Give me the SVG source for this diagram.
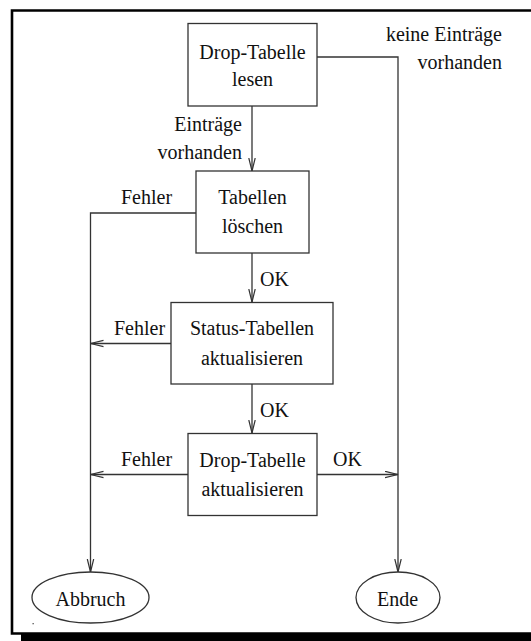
<svg xmlns="http://www.w3.org/2000/svg" width="531" height="641" viewBox="0 0 531 641">
  <style>
    .box { fill: #fff; stroke: #333; stroke-width: 1.3; }
    .edge { fill: none; stroke: #333; stroke-width: 1.3; }
    text { font-family: "Liberation Serif", "Times New Roman", serif; font-size: 20px; fill: #111; }
    .c { text-anchor: middle; }
    .r { text-anchor: end; }
  </style>
  <defs>
    <marker id="arrow" markerUnits="userSpaceOnUse" markerWidth="16" markerHeight="10" refX="13" refY="4" orient="auto">
      <path d="M0,0.8 L13,4 L0,7.2" fill="none" stroke="#333" stroke-width="1.2"/>
    </marker>
  </defs>

  <rect width="531" height="641" fill="#fff"/>

  <!-- page frame with drop shadow -->
  <g id="frame">
    <path d="M531,10.5 H12 V633.5 H531" fill="none" stroke="#000" stroke-width="2.6"/>
    <rect x="21" y="634" width="510" height="7" fill="#000"/>
    <rect x="32.5" y="623" width="1.3" height="1.3" fill="#555"/>
  </g>

  <!-- connectors -->
  <g id="connectors">
    <path class="edge" d="M317,57 H398 V572" marker-end="url(#arrow)"/>
    <path class="edge" d="M252,106 V171" marker-end="url(#arrow)"/>
    <path class="edge" d="M196,213 H90.5 V572" marker-end="url(#arrow)"/>
    <path class="edge" d="M252,253 V302" marker-end="url(#arrow)"/>
    <path class="edge" d="M171,343.5 H90.5" marker-end="url(#arrow)"/>
    <path class="edge" d="M252,384 V433" marker-end="url(#arrow)"/>
    <path class="edge" d="M188,474.5 H90.5" marker-end="url(#arrow)"/>
    <path class="edge" d="M317,474.5 H398" marker-end="url(#arrow)"/>

    <text class="r" x="502" y="41">keine Einträge</text>
    <text class="r" x="502" y="69">vorhanden</text>
    <text class="r" x="242" y="131">Einträge</text>
    <text class="r" x="242" y="159">vorhanden</text>
    <text x="121" y="204">Fehler</text>
    <text x="260" y="286">OK</text>
    <text x="114" y="335">Fehler</text>
    <text x="260" y="417">OK</text>
    <text x="121" y="466">Fehler</text>
    <text x="333" y="466">OK</text>
  </g>

  <g id="drop-tabelle-lesen">
    <rect class="box" x="188" y="23.5" width="129" height="82.5"/>
    <text class="c" x="252.5" y="59">Drop-Tabelle</text>
    <text class="c" x="252.5" y="86">lesen</text>
  </g>

  <g id="tabellen-loeschen">
    <rect class="box" x="196" y="171" width="113" height="82"/>
    <text class="c" x="252.5" y="204">Tabellen</text>
    <text class="c" x="252.5" y="233">löschen</text>
  </g>

  <g id="status-tabellen-aktualisieren">
    <rect class="box" x="171" y="302.5" width="162" height="81.5"/>
    <text class="c" x="252" y="335">Status-Tabellen</text>
    <text class="c" x="252" y="365">aktualisieren</text>
  </g>

  <g id="drop-tabelle-aktualisieren">
    <rect class="box" x="188" y="433.5" width="129" height="82"/>
    <text class="c" x="252.5" y="467">Drop-Tabelle</text>
    <text class="c" x="252.5" y="496">aktualisieren</text>
  </g>

  <g id="abbruch">
    <ellipse class="box" cx="90.5" cy="597.5" rx="58.5" ry="25.5"/>
    <text class="c" x="90.5" y="606">Abbruch</text>
  </g>

  <g id="ende">
    <ellipse class="box" cx="398" cy="597.5" rx="42" ry="25.5"/>
    <text class="c" x="397.5" y="606">Ende</text>
  </g>
</svg>
